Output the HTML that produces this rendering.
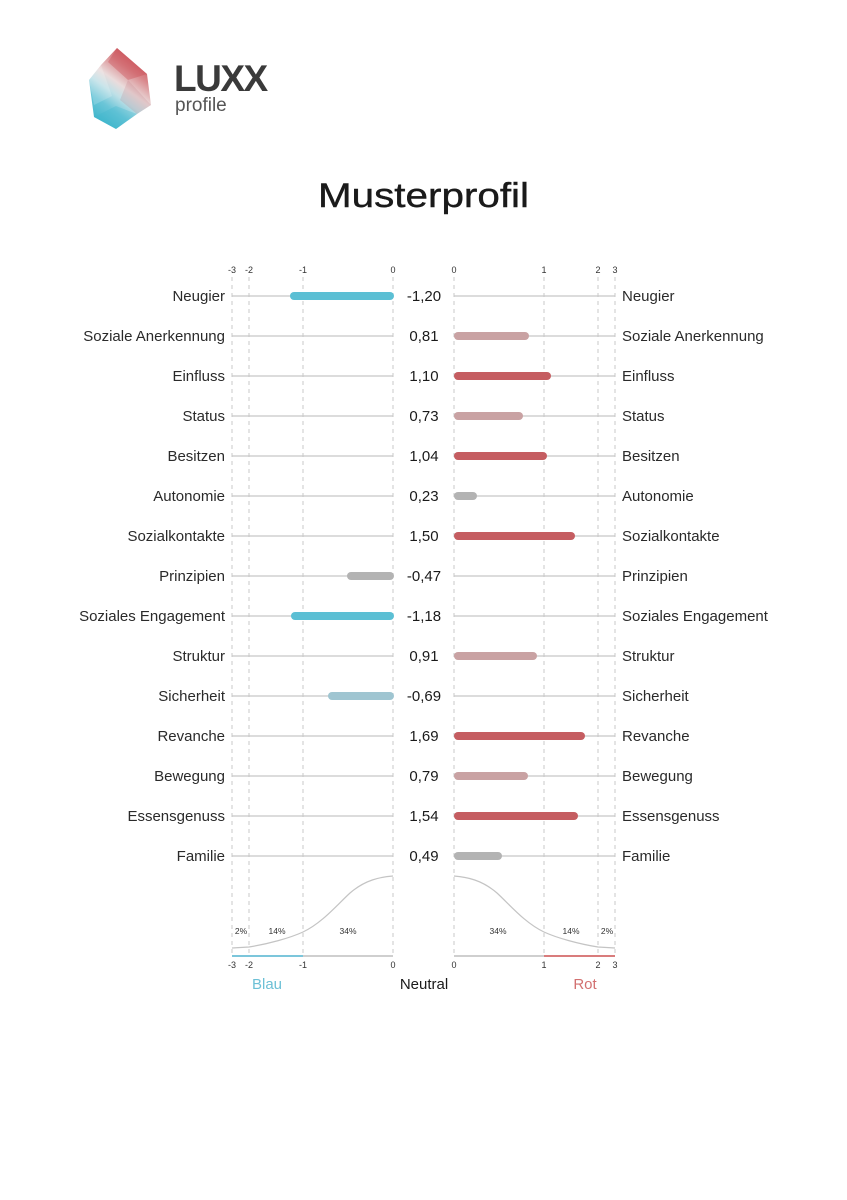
<!DOCTYPE html>
<html><head><meta charset="utf-8"><style>
html,body{margin:0;padding:0;background:#fff;}
svg{display:block;}
text{font-family:"Liberation Sans",Arial,sans-serif;}
</style></head><body>
<svg width="847" height="1200" viewBox="0 0 847 1200" xmlns="http://www.w3.org/2000/svg">
<defs>
<linearGradient id="gem" x1="0.8" y1="0.05" x2="0.3" y2="0.95">
<stop offset="0" stop-color="#c94a52"/>
<stop offset="0.25" stop-color="#d9878b"/>
<stop offset="0.48" stop-color="#eadcdc"/>
<stop offset="0.62" stop-color="#bfe0e7"/>
<stop offset="0.8" stop-color="#6cc6d8"/>
<stop offset="1" stop-color="#45b8cd"/>
</linearGradient>
</defs>
<!-- Logo -->
<polygon points="117,48 147,74 151,105 137,114 116,129 94,117 89,80 101,65" fill="url(#gem)"/>
<polygon points="117,48 147,74 128,80 108,62" fill="#c9454e" opacity="0.35"/>
<polygon points="89,80 101,65 112,96 94,105" fill="#ffffff" opacity="0.18"/>
<polygon points="128,80 151,105 137,114 120,100" fill="#b86a72" opacity="0.18"/>
<polygon points="94,117 116,106 137,114 116,129" fill="#3fb5cc" opacity="0.3"/>
<text x="174" y="91" font-size="37" font-weight="bold" fill="#3a3a3a" letter-spacing="-1.5">LUXX</text>
<text x="175" y="111" font-size="19" fill="#555">profile</text>
<!-- Title -->
<text x="318" y="207" font-size="34" fill="#1a1a1a" textLength="211" lengthAdjust="spacingAndGlyphs" stroke="#1a1a1a" stroke-width="0.4">Musterprofil</text>

<!-- dashed verticals -->
<g stroke="#c8c8c8" stroke-width="1" stroke-dasharray="4 4">
<line x1="232" y1="277" x2="232" y2="956"/>
<line x1="249" y1="277" x2="249" y2="956"/>
<line x1="303" y1="277" x2="303" y2="956"/>
<line x1="393" y1="277" x2="393" y2="956"/>
<line x1="454" y1="277" x2="454" y2="956"/>
<line x1="544" y1="277" x2="544" y2="956"/>
<line x1="598" y1="277" x2="598" y2="956"/>
<line x1="615" y1="277" x2="615" y2="956"/>
</g>
<!-- top tick labels -->
<g font-size="9" fill="#333" text-anchor="middle">
<text x="232" y="273">-3</text><text x="249" y="273">-2</text><text x="303" y="273">-1</text><text x="393" y="273">0</text>
<text x="454" y="273">0</text><text x="544" y="273">1</text><text x="598" y="273">2</text><text x="615" y="273">3</text>
</g>

<!-- rows -->
<g stroke="#c8c8c8" stroke-width="1.2">
<line x1="232" y1="296" x2="393" y2="296"/><line x1="454" y1="296" x2="615" y2="296"/>
<line x1="232" y1="336" x2="393" y2="336"/><line x1="454" y1="336" x2="615" y2="336"/>
<line x1="232" y1="376" x2="393" y2="376"/><line x1="454" y1="376" x2="615" y2="376"/>
<line x1="232" y1="416" x2="393" y2="416"/><line x1="454" y1="416" x2="615" y2="416"/>
<line x1="232" y1="456" x2="393" y2="456"/><line x1="454" y1="456" x2="615" y2="456"/>
<line x1="232" y1="496" x2="393" y2="496"/><line x1="454" y1="496" x2="615" y2="496"/>
<line x1="232" y1="536" x2="393" y2="536"/><line x1="454" y1="536" x2="615" y2="536"/>
<line x1="232" y1="576" x2="393" y2="576"/><line x1="454" y1="576" x2="615" y2="576"/>
<line x1="232" y1="616" x2="393" y2="616"/><line x1="454" y1="616" x2="615" y2="616"/>
<line x1="232" y1="656" x2="393" y2="656"/><line x1="454" y1="656" x2="615" y2="656"/>
<line x1="232" y1="696" x2="393" y2="696"/><line x1="454" y1="696" x2="615" y2="696"/>
<line x1="232" y1="736" x2="393" y2="736"/><line x1="454" y1="736" x2="615" y2="736"/>
<line x1="232" y1="776" x2="393" y2="776"/><line x1="454" y1="776" x2="615" y2="776"/>
<line x1="232" y1="816" x2="393" y2="816"/><line x1="454" y1="816" x2="615" y2="816"/>
<line x1="232" y1="856" x2="393" y2="856"/><line x1="454" y1="856" x2="615" y2="856"/>
</g>

<!-- bars -->
<g>
<rect x="290" y="292" width="104" height="8" rx="4" fill="#5bbfd4"/>
<rect x="454" y="332" width="75" height="8" rx="4" fill="#c9a2a3"/>
<rect x="454" y="372" width="97" height="8" rx="4" fill="#c55d61"/>
<rect x="454" y="412" width="69" height="8" rx="4" fill="#c9a2a3"/>
<rect x="454" y="452" width="93" height="8" rx="4" fill="#c55d61"/>
<rect x="454" y="492" width="23" height="8" rx="4" fill="#b3b3b3"/>
<rect x="454" y="532" width="121" height="8" rx="4" fill="#c55d61"/>
<rect x="347" y="572" width="47" height="8" rx="4" fill="#b3b3b3"/>
<rect x="291" y="612" width="103" height="8" rx="4" fill="#5bbfd4"/>
<rect x="454" y="652" width="83" height="8" rx="4" fill="#c9a2a3"/>
<rect x="328" y="692" width="66" height="8" rx="4" fill="#9fc5d1"/>
<rect x="454" y="732" width="131" height="8" rx="4" fill="#c55d61"/>
<rect x="454" y="772" width="74" height="8" rx="4" fill="#c9a2a3"/>
<rect x="454" y="812" width="124" height="8" rx="4" fill="#c55d61"/>
<rect x="454" y="852" width="48" height="8" rx="4" fill="#b3b3b3"/>
</g>

<!-- left labels -->
<g font-size="15" fill="#2a2a2a" text-anchor="end">
<text x="225" y="301">Neugier</text>
<text x="225" y="341">Soziale Anerkennung</text>
<text x="225" y="381">Einfluss</text>
<text x="225" y="421">Status</text>
<text x="225" y="461">Besitzen</text>
<text x="225" y="501">Autonomie</text>
<text x="225" y="541">Sozialkontakte</text>
<text x="225" y="581">Prinzipien</text>
<text x="225" y="621">Soziales Engagement</text>
<text x="225" y="661">Struktur</text>
<text x="225" y="701">Sicherheit</text>
<text x="225" y="741">Revanche</text>
<text x="225" y="781">Bewegung</text>
<text x="225" y="821">Essensgenuss</text>
<text x="225" y="861">Familie</text>
</g>
<!-- values -->
<g font-size="15" fill="#1a1a1a" text-anchor="middle">
<text x="424" y="301">-1,20</text>
<text x="424" y="341">0,81</text>
<text x="424" y="381">1,10</text>
<text x="424" y="421">0,73</text>
<text x="424" y="461">1,04</text>
<text x="424" y="501">0,23</text>
<text x="424" y="541">1,50</text>
<text x="424" y="581">-0,47</text>
<text x="424" y="621">-1,18</text>
<text x="424" y="661">0,91</text>
<text x="424" y="701">-0,69</text>
<text x="424" y="741">1,69</text>
<text x="424" y="781">0,79</text>
<text x="424" y="821">1,54</text>
<text x="424" y="861">0,49</text>
</g>
<!-- right labels -->
<g font-size="15" fill="#2a2a2a">
<text x="622" y="301">Neugier</text>
<text x="622" y="341">Soziale Anerkennung</text>
<text x="622" y="381">Einfluss</text>
<text x="622" y="421">Status</text>
<text x="622" y="461">Besitzen</text>
<text x="622" y="501">Autonomie</text>
<text x="622" y="541">Sozialkontakte</text>
<text x="622" y="581">Prinzipien</text>
<text x="622" y="621">Soziales Engagement</text>
<text x="622" y="661">Struktur</text>
<text x="622" y="701">Sicherheit</text>
<text x="622" y="741">Revanche</text>
<text x="622" y="781">Bewegung</text>
<text x="622" y="821">Essensgenuss</text>
<text x="622" y="861">Familie</text>
</g>

<!-- distribution curves -->
<g fill="none" stroke="#c4c4c4" stroke-width="1.2">
<path d="M232,948 L249,947 C268,944 290,938 303,932 C322,923 337,905 350,893 C365,880 380,877 393,876"/>
<path d="M454,876 C467,877 482,880 497,893 C510,905 525,923 544,932 C557,938 579,944 598,947 L615,948"/>
</g>
<g font-size="8.5" fill="#333" text-anchor="middle">
<text x="241" y="934">2%</text><text x="277" y="934">14%</text><text x="348" y="934">34%</text>
<text x="498" y="934">34%</text><text x="571" y="934">14%</text><text x="607" y="934">2%</text>
</g>
<!-- baselines -->
<g stroke-width="2">
<line x1="232" y1="956" x2="303" y2="956" stroke="#7cc6db"/>
<line x1="303" y1="956" x2="393" y2="956" stroke="#cfcfcf"/>
<line x1="454" y1="956" x2="544" y2="956" stroke="#cfcfcf"/>
<line x1="544" y1="956" x2="615" y2="956" stroke="#d97c7c"/>
</g>
<g font-size="9" fill="#333" text-anchor="middle">
<text x="232" y="968">-3</text><text x="249" y="968">-2</text><text x="303" y="968">-1</text><text x="393" y="968">0</text>
<text x="454" y="968">0</text><text x="544" y="968">1</text><text x="598" y="968">2</text><text x="615" y="968">3</text>
</g>
<g font-size="15" text-anchor="middle">
<text x="267" y="989" fill="#6cc0d6">Blau</text>
<text x="424" y="989" fill="#1a1a1a">Neutral</text>
<text x="585" y="989" fill="#d27070">Rot</text>
</g>
</svg>
</body></html>
